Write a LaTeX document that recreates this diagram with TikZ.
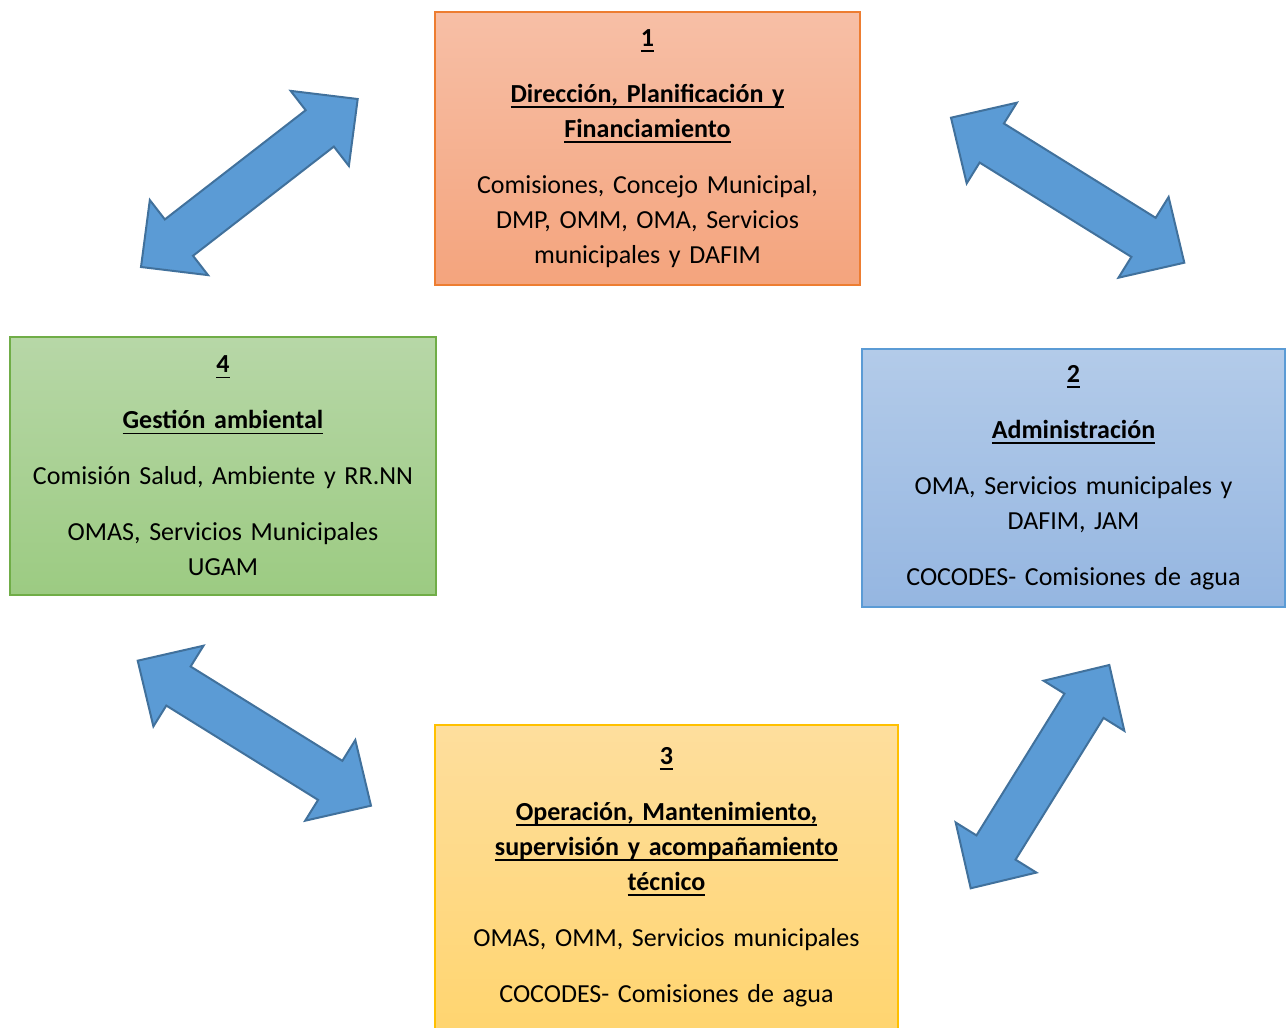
\documentclass[tikz,border=0pt]{standalone}
\usepackage{fontspec}
\setmainfont{Carlito}
\usetikzlibrary{calc,positioning}

\definecolor{arrowblue}{HTML}{5B9BD5}
\definecolor{arrowline}{HTML}{41719C}
\definecolor{orangeline}{HTML}{ED7D31}
\definecolor{orangetop}{HTML}{F7BFA6}
\definecolor{orangebot}{HTML}{F4A47D}
\definecolor{blueline}{HTML}{5B9BD5}
\definecolor{bluetop}{HTML}{B3CBE9}
\definecolor{bluebot}{HTML}{95B6E1}
\definecolor{yellowline}{HTML}{FFC000}
\definecolor{yellowtop}{HTML}{FEDE9D}
\definecolor{yellowbot}{HTML}{FFD570}
\definecolor{greenline}{HTML}{70AD47}
\definecolor{greentop}{HTML}{B7D7A7}
\definecolor{greenbot}{HTML}{9CCB82}

% heading: bold, underlined at a fixed depth
\newcommand{\hdr}[1]{\textbf{\setbox0\hbox{#1}\rlap{\rule[-5.5pt]{\wd0}{1.8pt}}\box0}}

% double block arrow between two tips
\newcommand{\dblarrow}[2]{%
  \draw[bigarrow] (#1)
    -- ($(#1)!48pt!(#2)!47.5pt!90:(#2)$)
    -- ($(#1)!48pt!(#2)!23pt!90:(#2)$)
    -- ($(#2)!48pt!(#1)!23pt!-90:(#1)$)
    -- ($(#2)!48pt!(#1)!47.5pt!-90:(#1)$)
    -- (#2)
    -- ($(#2)!48pt!(#1)!47.5pt!90:(#1)$)
    -- ($(#2)!48pt!(#1)!23pt!90:(#1)$)
    -- ($(#1)!48pt!(#2)!23pt!-90:(#2)$)
    -- ($(#1)!48pt!(#2)!47.5pt!-90:(#2)$)
    -- cycle;}

\tikzset{
  box/.style={draw, line width=1.5pt, align=center, inner sep=0pt,
    font=\fontsize{26}{35}\selectfont\frenchspacing},
  bigarrow/.style={draw=arrowline, fill=arrowblue, line width=2pt, line join=miter},
}

\begin{document}
\begin{tikzpicture}[x=1pt, y=-1pt]
    \useasboundingbox (0,0) rectangle (1286,1028);

    \node[box, draw=orangeline, top color=orangetop, bottom color=orangebot,
      text width=425, minimum height=273] (plan) at (647.5,148.5)
      {\hdr{1}\\[21pt]
       \hdr{Dirección, Planificación y}\\
       \hdr{Financiamiento}\\[21pt]
       Comisiones, Concejo Municipal,\\
       DMP, OMM, OMA, Servicios\\
       municipales y DAFIM};

    \node[box, draw=blueline, top color=bluetop, bottom color=bluebot,
      text width=423, minimum height=258] (admin) at (1073.5,478)
      {\hdr{2}\\[21pt]
       \hdr{Administración}\\[21pt]
       OMA, Servicios municipales y\\
       DAFIM, JAM\\[21pt]
       COCODES- Comisiones de agua};

    \node[box, draw=yellowline, top color=yellowtop, bottom color=yellowbot,
      text width=463, minimum height=304] (oper) at (666.5,877)
      {\hdr{3}\\[21pt]
       \hdr{Operación, Mantenimiento,}\\
       \hdr{supervisión y acompañamiento}\\
       \hdr{técnico}\\[21pt]
       OMAS, OMM, Servicios municipales\\[21pt]
       COCODES- Comisiones de agua};

    \node[box, draw=greenline, top color=greentop, bottom color=greenbot,
      text width=426, minimum height=258] (amb) at (223,466)
      {\hdr{4}\\[21pt]
       \hdr{Gestión ambiental}\\[21pt]
       Comisión Salud, Ambiente y RR.NN\\[21pt]
       OMAS, Servicios Municipales\\
       UGAM};

    % arrow tips
    \coordinate (a1) at (141,267);
    \coordinate (a2) at (357.7,99);
    \coordinate (b1) at (951,117.7);
    \coordinate (b2) at (1184.3,262.7);
    \coordinate (c1) at (137.7,660.7);
    \coordinate (c2) at (371,805.7);
    \coordinate (d1) at (970.7,888.3);
    \coordinate (d2) at (1109.3,665);

    \dblarrow{a1}{a2}
    \dblarrow{b1}{b2}
    \dblarrow{c1}{c2}
    \dblarrow{d1}{d2}
\end{tikzpicture}
\end{document}
